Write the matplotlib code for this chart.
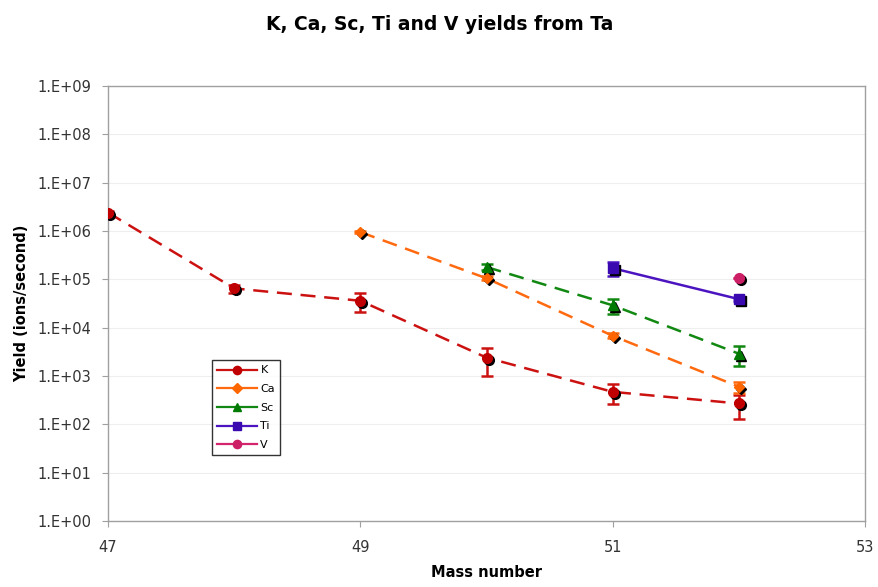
import math
import matplotlib
matplotlib.use("Agg")
import matplotlib.pyplot as plt
from matplotlib.transforms import ScaledTranslation
from matplotlib.ticker import FixedLocator, FuncFormatter, NullLocator

# ---- data ----
k_mass = [47, 48, 49, 50, 51, 52]
k_yield = [2.4e6, 6.5e4, 3.6e4, 2.4e3, 4.7e2, 2.7e2]
k_err = [2.0e5, 1.2e4, 1.5e4, 1.4e3, 2.1e2, 1.4e2]

ca_mass = [49, 50, 51, 52]
ca_yield = [9.5e5, 1.05e5, 6.8e3, 6.0e2]
ca_err = [5.0e4, 1.0e4, 8.0e2, 1.5e2]

sc_mass = [50, 51, 52]
sc_yield = [1.8e5, 2.9e4, 2.9e3]
sc_err = [2.5e4, 1.0e4, 1.3e3]

ti_mass = [51, 52]
ti_yield = [1.7e5, 3.9e4]
ti_err = [5.5e4, 3.0e3]

v_mass = [52]
v_yield = [1.05e5]
v_err = [0.0]

x_ticks = [47, 49, 51, 53]
y_ticks = [1e0, 1e1, 1e2, 1e3, 1e4, 1e5, 1e6, 1e7, 1e8, 1e9]

series = [
    ("K", k_mass, k_yield, k_err, "#CC1111", "#C00000", "o", (0, (6, 3.5)), 7),
    ("Ca", ca_mass, ca_yield, ca_err, "#FF6A10", "#FF6600", "D", (0, (6, 3.5)), 5.5),
    ("Sc", sc_mass, sc_yield, sc_err, "#118811", "#007A00", "^", (0, (6, 3.5)), 7),
    ("Ti", ti_mass, ti_yield, ti_err, "#4B14C0", "#3A0AB0", "s", "-", 6.5),
    ("V", v_mass, v_yield, v_err, "#D4246E", "#CC1F66", "o", "-", 7),
]

fig = plt.figure(figsize=(8.79, 5.87), dpi=100)
ax = fig.add_axes([0.123, 0.1124, 0.861, 0.7411])

shadow_tr = ax.transData + ScaledTranslation(2.0 / 100, -2.0 / 100, fig.dpi_scale_trans)

handles = []
for name, xs, ys, es, lc, mc, mk, ls, ms in series:
    ax.errorbar(xs, ys, yerr=es, fmt="none", ecolor=lc, elinewidth=1.8,
                capsize=4, capthick=1.8, zorder=3)
    ax.plot(xs, ys, color=lc, linestyle=ls, linewidth=1.8, zorder=2)
    ax.plot(xs, ys, linestyle="none", marker=mk, markersize=ms, color="black",
            markeredgecolor="black", transform=shadow_tr, zorder=3.5)
    ax.plot(xs, ys, linestyle="none", marker=mk, markersize=ms, color=mc,
            markeredgecolor=mc, zorder=4)
    h, = ax.plot([], [], color=lc, linestyle="-", linewidth=1.6, marker=mk,
                 markersize=ms, markerfacecolor=mc, markeredgecolor=mc, label=name)
    handles.append(h)

ax.set_yscale("log")
ax.set_ylim(1e0, 1e9)
ax.set_xlim(47, 53)
ax.yaxis.set_major_locator(FixedLocator(y_ticks))
ax.yaxis.set_minor_locator(NullLocator())
ax.yaxis.set_major_formatter(FuncFormatter(lambda v, p: "1.E+%02d" % round(math.log10(v))))
ax.xaxis.set_major_locator(FixedLocator(x_ticks))
ax.xaxis.set_major_formatter(FuncFormatter(lambda v, p: "%d" % v))

ax.grid(axis="y", color="#EEEEEE", linewidth=0.8)
ax.set_axisbelow(True)
for s in ax.spines.values():
    s.set_color("#A0A0A0")
    s.set_linewidth(1.0)
ax.tick_params(axis="both", colors="#A0A0A0", labelcolor="#333333", labelsize=10.5, length=4)
ax.tick_params(axis="x", pad=10)
ax.tick_params(axis="y", pad=8)

fig.text(0.553, 0.024, "Mass number", fontsize=10.5, fontweight="bold", ha="center", va="center")
ax.set_ylabel("Yield (ions/second)", fontsize=10.5, fontweight="bold", labelpad=6)
fig.suptitle("K, Ca, Sc, Ti and V yields from Ta", fontsize=13.5, fontweight="bold", y=0.975, x=0.5)

leg = ax.legend(handles=handles, loc="upper left", bbox_to_anchor=(0.13, 0.382), fontsize=8,
                frameon=True, fancybox=False, edgecolor="black", handlelength=3.6,
                handletextpad=0.3, borderpad=0.45, labelspacing=0.78, markerscale=0.85)
leg.get_frame().set_linewidth(1.0)

fig.savefig("out.png", dpi=100, facecolor="white")
